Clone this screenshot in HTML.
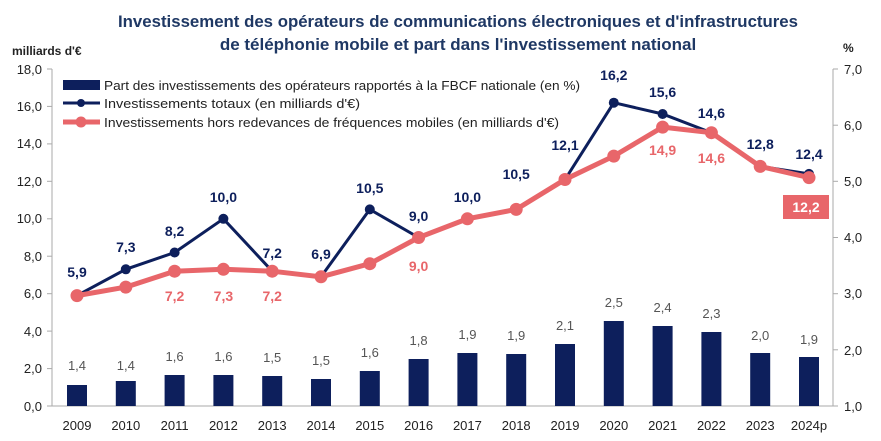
<!DOCTYPE html>
<html><head><meta charset="utf-8"><style>
body{margin:0;background:#fff;}
svg{display:block;font-family:"Liberation Sans",sans-serif;}
</style></head><body>
<svg width="881" height="441" viewBox="0 0 881 441">
<text x="458" y="27" text-anchor="middle" font-size="17" font-weight="bold" fill="#1f3864" textLength="680" lengthAdjust="spacingAndGlyphs">Investissement des opérateurs de communications électroniques et d'infrastructures</text>
<text x="458" y="50" text-anchor="middle" font-size="17" font-weight="bold" fill="#1f3864">de téléphonie mobile et part dans l'investissement national</text>
<text x="12" y="55" font-size="12" font-weight="bold" fill="#222">milliards d'€</text>
<text x="843" y="52" font-size="12" font-weight="bold" fill="#222">%</text>
<g stroke="#aaa" stroke-width="1">
<line x1="52" y1="69" x2="52" y2="406"/><line x1="52" y1="406" x2="833" y2="406"/><line x1="833" y1="69" x2="833" y2="406"/>
<line x1="47" y1="69" x2="52" y2="69"/><line x1="47" y1="106.4" x2="52" y2="106.4"/><line x1="47" y1="143.9" x2="52" y2="143.9"/><line x1="47" y1="181.3" x2="52" y2="181.3"/><line x1="47" y1="218.8" x2="52" y2="218.8"/><line x1="47" y1="256.2" x2="52" y2="256.2"/><line x1="47" y1="293.7" x2="52" y2="293.7"/><line x1="47" y1="331.1" x2="52" y2="331.1"/><line x1="47" y1="368.6" x2="52" y2="368.6"/><line x1="47" y1="406" x2="52" y2="406"/>
<line x1="833" y1="69" x2="838" y2="69"/><line x1="833" y1="125.2" x2="838" y2="125.2"/><line x1="833" y1="181.3" x2="838" y2="181.3"/><line x1="833" y1="237.5" x2="838" y2="237.5"/><line x1="833" y1="293.7" x2="838" y2="293.7"/><line x1="833" y1="349.8" x2="838" y2="349.8"/><line x1="833" y1="406" x2="838" y2="406"/>
</g>
<g font-size="13" fill="#222" text-anchor="end">
<text x="42" y="74">18,0</text><text x="42" y="111">16,0</text><text x="42" y="148">14,0</text><text x="42" y="186">12,0</text><text x="42" y="223">10,0</text><text x="42" y="261">8,0</text><text x="42" y="298">6,0</text><text x="42" y="336">4,0</text><text x="42" y="373">2,0</text><text x="42" y="411">0,0</text>
</g>
<g font-size="13" fill="#222">
<text x="844" y="74">7,0</text><text x="844" y="130">6,0</text><text x="844" y="186">5,0</text><text x="844" y="242">4,0</text><text x="844" y="298">3,0</text><text x="844" y="355">2,0</text><text x="844" y="411">1,0</text>
</g>
<g font-size="13" fill="#222" text-anchor="middle">
<text x="77" y="430">2009</text><text x="125.8" y="430">2010</text><text x="174.6" y="430">2011</text><text x="223.4" y="430">2012</text><text x="272.2" y="430">2013</text><text x="321" y="430">2014</text><text x="369.8" y="430">2015</text><text x="418.6" y="430">2016</text><text x="467.4" y="430">2017</text><text x="516.2" y="430">2018</text><text x="565" y="430">2019</text><text x="613.8" y="430">2020</text><text x="662.6" y="430">2021</text><text x="711.4" y="430">2022</text><text x="760.2" y="430">2023</text><text x="809" y="430">2024p</text>
</g>
<g fill="#0d1f5c">
<rect x="67" y="385" width="20" height="21"/><rect x="115.8" y="381" width="20" height="25"/><rect x="164.6" y="375" width="20" height="31"/><rect x="213.4" y="375" width="20" height="31"/><rect x="262.2" y="376" width="20" height="30"/><rect x="311" y="379" width="20" height="27"/><rect x="359.8" y="371" width="20" height="35"/><rect x="408.6" y="359" width="20" height="47"/><rect x="457.4" y="353" width="20" height="53"/><rect x="506.2" y="354" width="20" height="52"/><rect x="555" y="344" width="20" height="62"/><rect x="603.8" y="321" width="20" height="85"/><rect x="652.6" y="326" width="20" height="80"/><rect x="701.4" y="332" width="20" height="74"/><rect x="750.2" y="353" width="20" height="53"/><rect x="799" y="357" width="20" height="49"/>
</g>
<g font-size="13" fill="#555" text-anchor="middle">
<text x="77" y="370">1,4</text><text x="125.8" y="370">1,4</text><text x="174.6" y="361">1,6</text><text x="223.4" y="361">1,6</text><text x="272.2" y="362">1,5</text><text x="321" y="365">1,5</text><text x="369.8" y="357">1,6</text><text x="418.6" y="345">1,8</text><text x="467.4" y="339">1,9</text><text x="516.2" y="340">1,9</text><text x="565" y="330">2,1</text><text x="613.8" y="307">2,5</text><text x="662.6" y="312">2,4</text><text x="711.4" y="318">2,3</text><text x="760.2" y="340">2,0</text><text x="809" y="344">1,9</text>
</g>
<polyline fill="none" stroke="#0d1f5c" stroke-width="3" points="77,295.6 125.8,269.3 174.6,252.5 223.4,218.8 272.2,271.2 321,276.8 369.8,209.4 418.6,237.5 467.4,218.8 516.2,209.4 565,179.5 613.8,102.7 662.6,114 711.4,132.7 760.2,166.4 809,173.9"/>
<g fill="#0d1f5c">
<circle cx="77" cy="295.6" r="5"/><circle cx="125.8" cy="269.3" r="5"/><circle cx="174.6" cy="252.5" r="5"/><circle cx="223.4" cy="218.8" r="5"/><circle cx="272.2" cy="271.2" r="5"/><circle cx="321" cy="276.8" r="5"/><circle cx="369.8" cy="209.4" r="5"/><circle cx="418.6" cy="237.5" r="5"/><circle cx="613.8" cy="102.7" r="5"/><circle cx="662.6" cy="114" r="5"/><circle cx="809" cy="173.9" r="5"/>
</g>
<polyline fill="none" stroke="#e8666a" stroke-width="5" points="77,295.6 125.8,287.1 174.6,271.2 223.4,269.3 272.2,271.2 321,276.8 369.8,263.7 418.6,237.5 467.4,218.8 516.2,209.4 565,179.5 613.8,156.1 662.6,127.1 711.4,132.7 760.2,166.4 809,177.6"/>
<g fill="#e8666a">
<circle cx="77" cy="295.6" r="6.5"/><circle cx="125.8" cy="287.1" r="6.5"/><circle cx="174.6" cy="271.2" r="6.5"/><circle cx="223.4" cy="269.3" r="6.5"/><circle cx="272.2" cy="271.2" r="6.5"/><circle cx="321" cy="276.8" r="6.5"/><circle cx="369.8" cy="263.7" r="6.5"/><circle cx="418.6" cy="237.5" r="6.5"/><circle cx="467.4" cy="218.8" r="6.5"/><circle cx="516.2" cy="209.4" r="6.5"/><circle cx="565" cy="179.5" r="6.5"/><circle cx="613.8" cy="156.1" r="6.5"/><circle cx="662.6" cy="127.1" r="6.5"/><circle cx="711.4" cy="132.7" r="6.5"/><circle cx="760.2" cy="166.4" r="6.5"/><circle cx="809" cy="177.6" r="6.5"/>
</g>
<g font-size="14" font-weight="bold" fill="#0d1f5c" text-anchor="middle">
<text x="77" y="277">5,9</text><text x="125.8" y="252">7,3</text><text x="174.6" y="236">8,2</text><text x="223.4" y="202">10,0</text><text x="272.2" y="258">7,2</text><text x="321" y="259">6,9</text><text x="369.8" y="193">10,5</text><text x="418.6" y="221">9,0</text><text x="467.4" y="202">10,0</text><text x="516.2" y="179">10,5</text><text x="565" y="150">12,1</text><text x="613.8" y="80">16,2</text><text x="662.6" y="97">15,6</text><text x="711.4" y="118">14,6</text><text x="760.2" y="149">12,8</text><text x="809" y="159">12,4</text>
</g>
<g font-size="14" font-weight="bold" fill="#e8666a" text-anchor="middle">
<text x="174.6" y="301">7,2</text><text x="223.4" y="301">7,3</text><text x="272.2" y="301">7,2</text><text x="418.6" y="271">9,0</text><text x="662.6" y="155">14,9</text><text x="711.4" y="163">14,6</text>
</g>
<rect x="783" y="195" width="46" height="24" fill="#e8666a"/>
<text x="806" y="212" font-size="14" font-weight="bold" fill="#fff" text-anchor="middle">12,2</text>
<rect x="63" y="80" width="37" height="10" fill="#0d1f5c"/>
<text x="104" y="90" font-size="13" fill="#222" textLength="476" lengthAdjust="spacingAndGlyphs">Part des investissements des opérateurs rapportés à la FBCF nationale (en %)</text>
<line x1="63" y1="103" x2="100" y2="103" stroke="#0d1f5c" stroke-width="3"/><circle cx="81" cy="103" r="4" fill="#0d1f5c"/>
<text x="104" y="108" font-size="13" fill="#222" textLength="256" lengthAdjust="spacingAndGlyphs">Investissements totaux (en milliards d'€)</text>
<line x1="63" y1="122" x2="100" y2="122" stroke="#e8666a" stroke-width="5"/><circle cx="81" cy="122" r="5.5" fill="#e8666a"/>
<text x="104" y="127" font-size="13" fill="#222" textLength="455" lengthAdjust="spacingAndGlyphs">Investissements hors redevances de fréquences mobiles (en milliards d'€)</text>
</svg>
</body></html>
